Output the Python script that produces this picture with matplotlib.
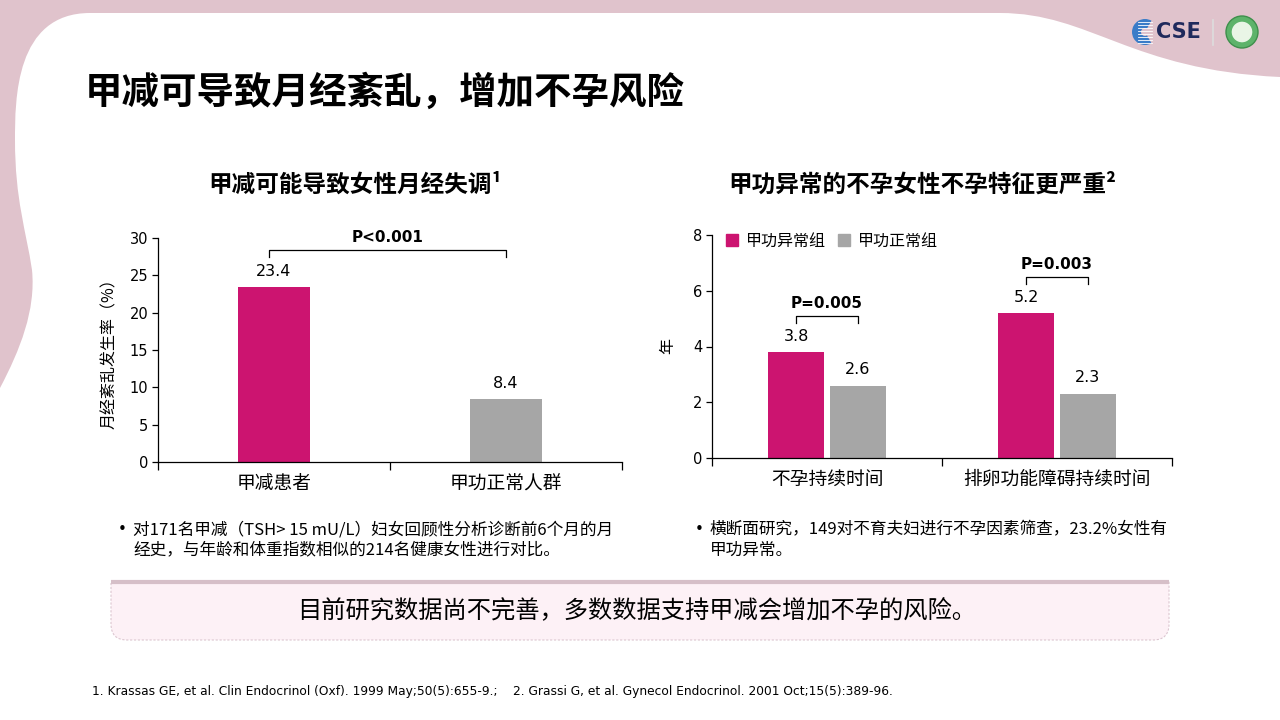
import matplotlib.pyplot as plt
import numpy as np
from matplotlib.path import Path
from matplotlib.patches import PathPatch, Patch, Circle, Wedge

plt.rcParams['font.family'] = ['DejaVu Sans', 'Noto Sans CJK SC']
CJK = ['Noto Sans CJK SC', 'DejaVu Sans']

# ---- data ----
left_cats = ['甲减患者', '甲功正常人群']
left_vals = [23.4, 8.4]
left_p = 'P<0.001'

right_cats = ['不孕持续时间', '排卵功能障碍持续时间']
abnormal_vals = [3.8, 5.2]
normal_vals = [2.6, 2.3]
right_p = ['P=0.005', 'P=0.003']
series_names = ['甲功异常组', '甲功正常组']

MAGENTA = '#cc1470'
GRAY = '#a6a6a6'
PINK = '#e0c3cc'

fig = plt.figure(figsize=(12.8, 7.2), dpi=100)
fig.patch.set_facecolor(PINK)

# ---- background (pixel coords) ----
bg = fig.add_axes([0, 0, 1, 1], zorder=-10)
bg.set_xlim(0, 1280)
bg.set_ylim(720, 0)
bg.axis('off')

verts = [(0, 388),
         (20, 350), (36, 310), (32, 270),
         (26, 230), (15, 200), (15, 140),
         (15, 100), (15, 13), (90, 13),
         (1000, 13),
         (1090, 13), (1130, 70), (1280, 77),
         (1280, 720), (0, 720), (0, 388)]
codes = [Path.MOVETO,
         Path.CURVE4, Path.CURVE4, Path.CURVE4,
         Path.CURVE4, Path.CURVE4, Path.CURVE4,
         Path.CURVE4, Path.CURVE4, Path.CURVE4,
         Path.LINETO,
         Path.CURVE4, Path.CURVE4, Path.CURVE4,
         Path.LINETO, Path.LINETO, Path.CLOSEPOLY]
bg.add_patch(PathPatch(Path(verts, codes), facecolor='white', edgecolor='none'))

# logo
bg.add_patch(Wedge((1145, 32), 13, 60, 300, width=9, facecolor='#3a7cc8', edgecolor='none'))
for yy in range(22, 44, 3):
    bg.plot([1138, 1152], [yy, yy], color='white', lw=0.6)
bg.text(1178, 32, 'CSE', fontsize=15, fontweight='bold', color='#1f2a5c', ha='center', va='center')
bg.plot([1213, 1213], [20, 45], color='#dddddd', lw=1.2)
bg.add_patch(Circle((1242, 32), 16, facecolor='#5db36a', edgecolor='#3e8f4b', lw=1))
bg.add_patch(Circle((1242, 32), 11, facecolor='#e9f5e6', edgecolor='#5db36a', lw=1))

# title
bg.text(85, 92, '甲减可导致月经紊乱，增加不孕风险', fontsize=27, fontweight='bold',
        family=CJK, ha='left', va='center', color='black')

# subtitles
bg.text(355, 185, '甲减可能导致女性月经失调¹', fontsize=17, fontweight='bold',
        family=CJK, ha='center', va='center')
bg.text(922, 185, '甲功异常的不孕女性不孕特征更严重²', fontsize=17, fontweight='bold',
        family=CJK, ha='center', va='center')

# bullets
bfs = 12
bg.text(118, 530, '•', fontsize=11, ha='left', va='center')
bg.text(133, 530, '对171名甲减（TSH> 15 mU/L）妇女回顾性分析诊断前6个月的月', fontsize=bfs,
        family=CJK, ha='left', va='center')
bg.text(133, 550, '经史，与年龄和体重指数相似的214名健康女性进行对比。', fontsize=bfs,
        family=CJK, ha='left', va='center')
bg.text(695, 530, '•', fontsize=11, ha='left', va='center')
bg.text(710, 530, '横断面研究，149对不育夫妇进行不孕因素筛查，23.2%女性有', fontsize=bfs,
        family=CJK, ha='left', va='center')
bg.text(710, 550, '甲功异常。', fontsize=bfs, family=CJK, ha='left', va='center')

# conclusion box: square top corners, rounded bottom corners
r = 16
x0, x1, y0, y1 = 111, 1169, 582, 640
bverts = [(x0, y0), (x1, y0), (x1, y1 - r), (x1, y1), (x1 - r, y1),
          (x0 + r, y1), (x0, y1), (x0, y1 - r), (x0, y0)]
bcodes = [Path.MOVETO, Path.LINETO, Path.LINETO, Path.CURVE3, Path.CURVE3,
          Path.LINETO, Path.CURVE3, Path.CURVE3, Path.CLOSEPOLY]
bg.add_patch(PathPatch(Path(bverts, bcodes), facecolor='#fdf1f6', edgecolor='#dcc6d0',
                       lw=0.8, linestyle=(0, (2, 1.5))))
bg.plot([x0, x1], [y0, y0], color='#d6bfc8', lw=3, solid_capstyle='butt')
bg.text(637, 611, '目前研究数据尚不完善，多数数据支持甲减会增加不孕的风险。', fontsize=17.5,
        family=CJK, ha='center', va='center')

# footnote
bg.text(92, 692, '1. Krassas GE, et al. Clin Endocrinol (Oxf). 1999 May;50(5):655-9.;    '
        '2. Grassi G, et al. Gynecol Endocrinol. 2001 Oct;15(5):389-96.',
        fontsize=8.8, ha='left', va='center')


def style_axes(ax, n):
    for s in ['top', 'right']:
        ax.spines[s].set_visible(False)
    for s in ['left', 'bottom']:
        ax.spines[s].set_linewidth(0.9)
    ax.set_xlim(-0.5, n - 0.5)
    ax.set_xticks(np.arange(n + 1) - 0.5)
    ax.set_xticklabels([])
    ax.tick_params(axis='x', which='major', length=6, width=0.9, direction='out')
    ax.tick_params(axis='y', length=4, width=0.9, direction='out', labelsize=10.5, pad=3)
    ax.set_xticks(np.arange(n), minor=True)
    ax.tick_params(axis='x', which='minor', length=0, pad=8)


def bracket(ax, xa, xb, y, drop, label):
    ax.plot([xa, xa, xb, xb], [y - drop, y, y, y - drop], color='black', lw=0.9, clip_on=False)
    ax.annotate(label, xy=((xa + xb) / 2, y), xytext=(0, 9), textcoords='offset points',
                ha='center', va='center', fontsize=11, fontweight='bold', annotation_clip=False)


# ---- left chart ----
axl = fig.add_axes([158 / 1280, 258 / 720, 464 / 1280, 224 / 720])
xl = np.arange(len(left_cats))
axl.bar(xl, left_vals, width=0.31, color=[MAGENTA, GRAY])
axl.set_ylim(0, 30)
axl.set_yticks(range(0, 31, 5))
style_axes(axl, len(left_cats))
axl.set_xticklabels(left_cats, minor=True, fontsize=13.5, family=CJK)
axl.set_ylabel('月经紊乱发生率（%）', fontsize=11.5, family=CJK, labelpad=8)
for x, v in zip(xl, left_vals):
    axl.annotate(f'{v}', xy=(x, v), xytext=(0, 11.5), textcoords='offset points',
                 ha='center', va='center', fontsize=11.5)
bracket(axl, xl[0] - 0.02, xl[1], max(left_vals) + 5.0, 0.95, left_p)

# ---- right chart ----
axr = fig.add_axes([712 / 1280, 262 / 720, 460 / 1280, 223 / 720])
xr = np.arange(len(right_cats))
off, bw = 0.133, 0.243
axr.bar(xr - off, abnormal_vals, width=bw, color=MAGENTA)
axr.bar(xr + off, normal_vals, width=bw, color=GRAY)
axr.set_ylim(0, 8)
axr.set_yticks(range(0, 9, 2))
style_axes(axr, len(right_cats))
axr.set_xticklabels(right_cats, minor=True, fontsize=13.5, family=CJK)
axr.set_ylabel('年', fontsize=11.5, family=CJK, labelpad=12)
for x, a, b in zip(xr, abnormal_vals, normal_vals):
    axr.annotate(f'{a}', xy=(x - off, a), xytext=(0, 11.5), textcoords='offset points',
                 ha='center', va='center', fontsize=11.5)
    axr.annotate(f'{b}', xy=(x + off, b), xytext=(0, 11.5), textcoords='offset points',
                 ha='center', va='center', fontsize=11.5)
for x, a, b, p in zip(xr, abnormal_vals, normal_vals, right_p):
    bracket(axr, x - off, x + off, max(a, b) + 1.3, 0.25, p)

handles = [Patch(color=MAGENTA), Patch(color=GRAY)]
axr.legend(handles, series_names, loc='upper left', bbox_to_anchor=(0.0, 1.075), ncol=2,
           frameon=False, prop={'family': CJK, 'size': 11.5},
           handlelength=0.75, handleheight=0.75, handletextpad=0.45, columnspacing=0.8)

fig.savefig('out.png', dpi=100, facecolor=fig.get_facecolor())
